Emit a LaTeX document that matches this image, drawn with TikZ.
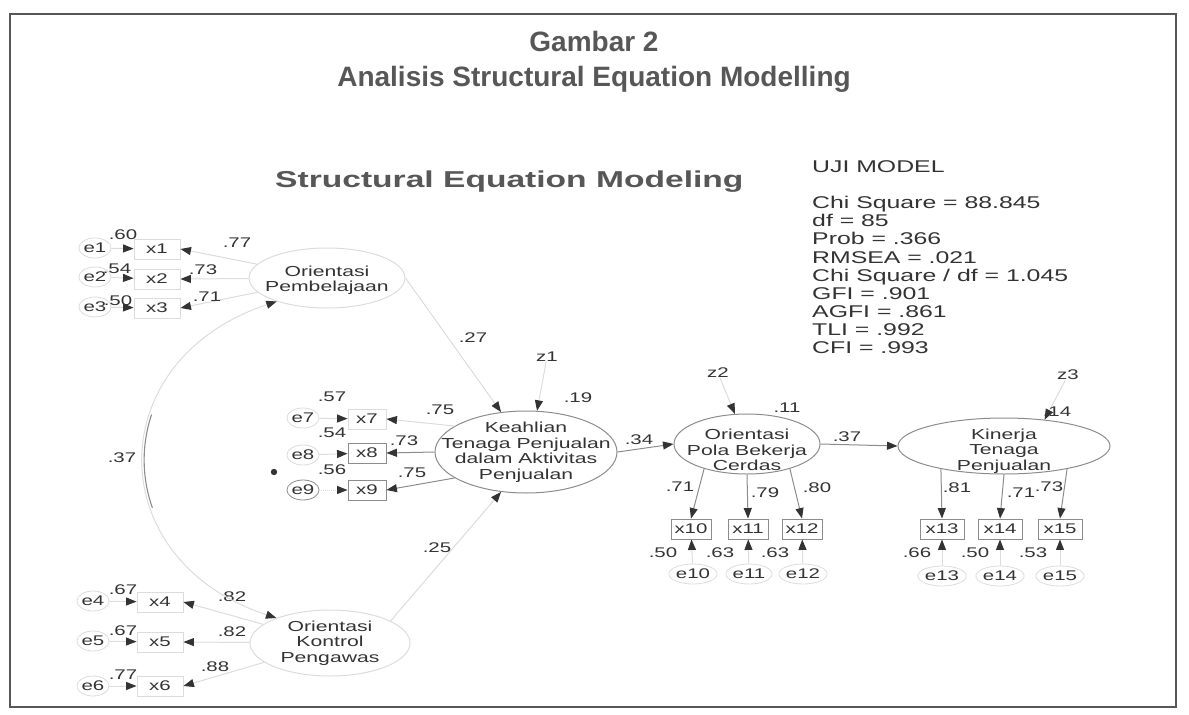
\documentclass[tikz,border=0pt]{standalone}
\usepackage{fontspec}
\setmainfont{Liberation Sans}
\newfontfamily\amos[FakeStretch=1.46]{Liberation Sans}
\usepackage{tikz}
\usetikzlibrary{positioning,arrows.meta,shapes.geometric}
\definecolor{ink}{HTML}{333333}
\definecolor{titlegray}{HTML}{575757}
\definecolor{pale}{HTML}{8C8C8C}
\definecolor{faded}{HTML}{DCDCDC}

\tikzset{
  lbl/.style={font=\amos\fontsize{14}{15}\selectfont,text=ink,inner sep=0pt},
  lname/.style={font=\amos\fontsize{14.5}{15.5}\selectfont,text=ink,align=center,inner sep=0pt},
  obs/.style={lbl,draw=pale,line width=0.9pt,minimum width=40pt,minimum height=20pt},
  err/.style={lbl,ellipse,draw=faded,line width=0.8pt,minimum width=26pt,minimum height=20pt},
  latent/.style={ellipse,draw=pale,line width=1pt,inner sep=0pt},
  load/.style={draw=pale,line width=1pt,-{Triangle[length=10.5pt,width=8pt,color=ink]}},
  tipis/.style={load,draw=faded},
  judul/.style={font=\bfseries\fontsize{28}{30}\selectfont,text=titlegray,inner sep=0pt},
  uji/.style={font=\amos\fontsize{17}{18.1}\selectfont,text=ink,inner sep=0pt}
}

\begin{document}
\begin{tikzpicture}[x=1pt,y=-1pt]
\useasboundingbox (0,0) rectangle (1189,715);
\draw[titlegray,line width=1.2pt] (10,14) rectangle (1176,707);

% judul
\node[judul,anchor=base] (gambar) at (594,51) {Gambar 2};
\node[judul,anchor=base] (analisis) at (594,86) {Analisis Structural Equation Modelling};
\node[font=\amos\bfseries\fontsize{23}{25}\selectfont,text=titlegray,inner sep=0pt,anchor=west] (sem) at (275,182) {Structural Equation Modeling};

% uji model
\node[uji,anchor=west] (uji) at (812,167) {UJI MODEL};
\node[uji,align=left,below=23pt of uji.south west,anchor=north west] (fit) {Chi Square = 88.845\\df = 85\\Prob = .366\\RMSEA = .021\\Chi Square / df = 1.045\\GFI = .901\\AGFI = .861\\TLI = .992\\CFI = .993};

% Orientasi Pembelajaan
\node[latent,draw=faded,minimum width=156pt,minimum height=60pt,
  label={[lname,yshift=-2pt]center:{Orientasi\\Pembelajaan}}] (op) at (327,278) {};
\node[obs,draw=faded,minimum width=46pt] (x1) at (157,249) {x1};
\node[obs,draw=faded,minimum width=46pt] (x2) at (157,279) {x2};
\node[obs,draw=faded,minimum width=46pt] (x3) at (157,308) {x3};
\node[err] (e1) at (95,248) {e1};
\node[err] (e2) at (95,277) {e2};
\node[err] (e3) at (95,307) {e3};
\draw[tipis] (e1) -- (x1);
\draw[tipis] (e2) -- (x2);
\draw[tipis] (e3) -- (x3);
\draw[tipis] (op) -- (x1.east);
\draw[tipis] (op) -- (x2.east);
\draw[tipis] (op) -- (x3.east);
\node[lbl] (v1) at (123,235) {.60};
\node[lbl] (v2) at (117,269) {.54};
\node[lbl] (v3) at (118,301) {.50};
\node[lbl] (l1) at (237,243) {.77};
\node[lbl] (l2) at (203,270) {.73};
\node[lbl] (l3) at (207,297) {.71};

% Orientasi Kontrol Pengawas
\node[latent,draw=faded,minimum width=160pt,minimum height=66pt,
  label={[lname]center:{Orientasi\\Kontrol\\Pengawas}}] (okp) at (330,643) {};
\node[obs,draw=faded,minimum width=46pt] (x4) at (160,602) {x4};
\node[obs,draw=faded,minimum width=46pt] (x5) at (160,642) {x5};
\node[obs,draw=faded,minimum width=46pt] (x6) at (160,686) {x6};
\node[err] (e4) at (93,601) {e4};
\node[err] (e5) at (93,641) {e5};
\node[err] (e6) at (93,686) {e6};
\draw[tipis] (e4) -- (x4);
\draw[tipis] (e5) -- (x5);
\draw[tipis] (e6) -- (x6);
\draw[tipis] (okp) -- (x4.east);
\draw[tipis] (okp) -- (x5.east);
\draw[tipis] (okp) -- (x6.east);
\node[lbl] (v4) at (123,590) {.67};
\node[lbl] (v5) at (123,631) {.67};
\node[lbl] (v6) at (123,675) {.77};
\node[lbl] (l4) at (232,597) {.82};
\node[lbl] (l5) at (232,632) {.82};
\node[lbl] (l6) at (215,667) {.88};

% kovarians
\draw[faded,line width=1pt,{Triangle[length=10.5pt,width=8pt,color=ink]}-{Triangle[length=10.5pt,width=8pt,color=ink]}]
  (op.205) .. controls (100,360) and (100,560) .. (okp.155);
\draw[pale,line width=1.1pt,dash pattern=on 0pt off 175pt on 95pt off 400pt]
  (op.205) .. controls (100,360) and (100,560) .. (okp.155);
\node[lbl] (c1) at (122,458) {.37};
\fill[ink] (274,472) circle (3.2pt);

% Keahlian Tenaga Penjualan
\node[latent,minimum width=182pt,minimum height=82pt,
  label={[lname]center:{Keahlian\\Tenaga Penjualan\\dalam Aktivitas\\Penjualan}}] (ktp) at (526,452) {};
\node[obs,draw=faded,minimum width=38pt] (x7) at (367,419) {x7};
\node[obs,minimum width=38pt] (x8) at (367,453) {x8};
\node[obs,minimum width=38pt] (x9) at (367,490) {x9};
\node[err] (e7) at (303,418) {e7};
\node[err] (e8) at (303,455) {e8};
\node[err,draw=pale] (e9) at (303,490) {e9};
\draw[tipis] (e7) -- (x7);
\draw[tipis] (e8) -- (x8);
\draw[tipis,densely dotted] (e9) -- (x9);
\draw[tipis] (ktp.160) -- (x7.east);
\draw[load] (ktp.180) -- (x8.east);
\draw[load] (ktp.200) -- (x9.east);
\node[lbl] (v7) at (332,397) {.57};
\node[lbl] (v8) at (332,433) {.54};
\node[lbl] (v9) at (332,470) {.56};
\node[lbl] (l7) at (440,410) {.75};
\node[lbl] (l8) at (404,441) {.73};
\node[lbl] (l9) at (412,473) {.75};

\node[lbl] (z1) at (547,357) {z1};
\draw[tipis] (z1) -- (ktp.75);
\node[lbl] (r1) at (578,398) {.19};
\draw[tipis] (op.east) -- (ktp.122);
\node[lbl] (p1) at (473,338) {.27};
\draw[tipis] (okp.20) -- (ktp.238);
\node[lbl] (p2) at (437,548) {.25};

% Orientasi Pola Bekerja Cerdas
\node[latent,minimum width=146pt,minimum height=60pt,
  label={[lname,yshift=-6pt]center:{Orientasi\\Pola Bekerja\\Cerdas}}] (opb) at (747,444) {};
\draw[load] (ktp.east) -- (opb.west);
\node[lbl] (p3) at (639,440) {.34};
\node[lbl] (z2) at (718,373) {z2};
\draw[tipis] (z2) -- (opb.112);
\node[lbl] (r2) at (787,408) {.11};

\node[obs] (x10) at (691,529) {x10};
\node[obs] (x11) at (748,529) {x11};
\node[obs] (x12) at (802,529) {x12};
\node[err] (e10) at (693,574) {e10};
\node[err] (e11) at (749,574) {e11};
\node[err] (e12) at (803,574) {e12};
\draw[load] (opb.210) -- (x10.north);
\draw[load] (opb.south) -- (x11.north);
\draw[load] (opb.330) -- (x12.north);
\draw[tipis] (e10) -- (x10);
\draw[tipis] (e11) -- (x11);
\draw[tipis] (e12) -- (x12);
\node[lbl] (l10) at (680,487) {.71};
\node[lbl] (l11) at (765,493) {.79};
\node[lbl] (l12) at (817,488) {.80};
\node[lbl] (v10) at (663,553) {.50};
\node[lbl] (v11) at (720,553) {.63};
\node[lbl] (v12) at (775,553) {.63};

% Kinerja Tenaga Penjualan
\node[latent,minimum width=212pt,minimum height=56pt,
  label={[lname,yshift=-5pt]center:{Kinerja\\Tenaga\\Penjualan}}] (kin) at (1004,446) {};
\draw[load] (opb.east) -- (kin.west);
\node[lbl] (p4) at (847,437) {.37};
\node[lbl] (z3) at (1068,375) {z3};
\draw[tipis] (z3) -- (kin.33);
\node[lbl] (r3) at (1057,412) {.14};

\node[obs,minimum width=44pt] (x13) at (942,529) {x13};
\node[obs,minimum width=44pt] (x14) at (1000,529) {x14};
\node[obs,minimum width=44pt] (x15) at (1060,529) {x15};
\node[err] (e13) at (942,576) {e13};
\node[err] (e14) at (1000,576) {e14};
\node[err] (e15) at (1060,576) {e15};
\draw[load] (kin.200) -- (x13.north);
\draw[load] (kin.south) -- (x14.north);
\draw[load] (kin.340) -- (x15.north);
\draw[tipis] (e13) -- (x13);
\draw[tipis] (e14) -- (x14);
\draw[tipis] (e15) -- (x15);
\node[lbl] (l13) at (957,488) {.81};
\node[lbl] (l14) at (1021,493) {.71};
\node[lbl] (l15) at (1049,487) {.73};
\node[lbl] (v13) at (917,553) {.66};
\node[lbl] (v14) at (975,553) {.50};
\node[lbl] (v15) at (1033,553) {.53};
\end{tikzpicture}
\end{document}
